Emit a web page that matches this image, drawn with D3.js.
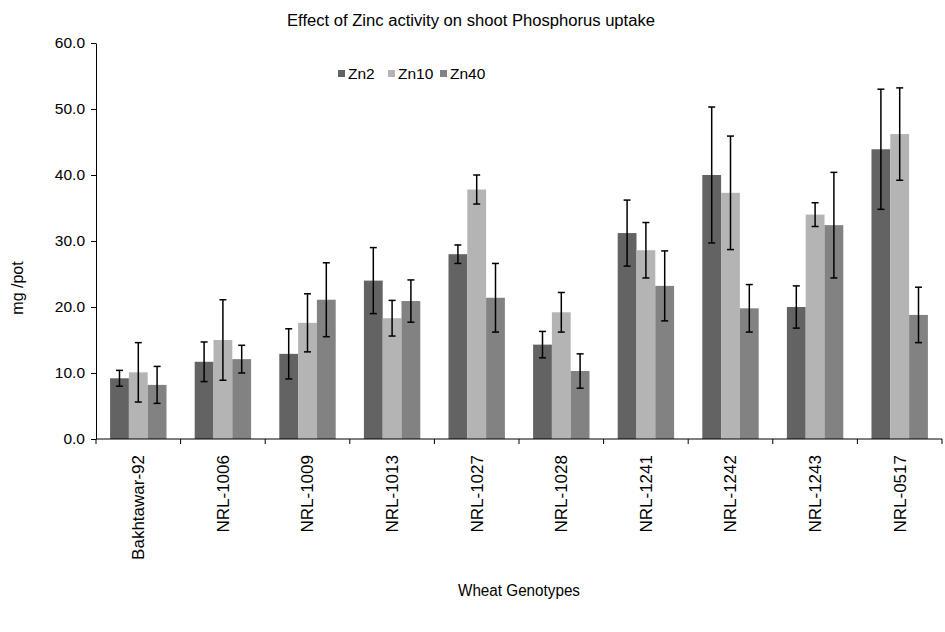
<!DOCTYPE html>
<html>
<head>
<meta charset="utf-8">
<script src="https://cdn.jsdelivr.net/npm/d3@7"></script>
<style>
  body { margin: 0; background: #fff; }
  svg text { font-family: "Liberation Sans", Arial, sans-serif; fill: #000; }
</style>
</head>
<body>
<script>
// data
var genotypes = ["Bakhtawar-92", "NRL-1006", "NRL-1009", "NRL-1013", "NRL-1027",
                 "NRL-1028", "NRL-1241", "NRL-1242", "NRL-1243", "NRL-0517"];
var seriesNames = ["Zn2", "Zn10", "Zn40"];
var zn2  = [9.2, 11.7, 12.9, 24.0, 28.0, 14.3, 31.2, 40.0, 20.0, 43.9];
var zn10 = [10.1, 15.0, 17.6, 18.3, 37.8, 19.2, 28.6, 37.3, 34.0, 46.2];
var zn40 = [8.2, 12.1, 21.1, 20.9, 21.4, 10.3, 23.2, 19.8, 32.4, 18.8];
var err2  = [1.2, 3.0, 3.8, 5.0, 1.4, 2.0, 5.0, 10.3, 3.2, 9.1];
var err10 = [4.5, 6.1, 4.4, 2.7, 2.2, 3.0, 4.2, 8.6, 1.8, 7.0];
var err40 = [2.8, 2.1, 5.6, 3.2, 5.2, 2.6, 5.3, 3.6, 8.0, 4.2];
var yTicks = [0, 10, 20, 30, 40, 50, 60];

var colors = ["#636363", "#b4b4b4", "#828282"];
var values = [zn2, zn10, zn40];
var errors = [err2, err10, err40];

// set the dimensions and margins of the graph
var margin = {top: 43, right: 3, bottom: 193, left: 96},
    width = 945 - margin.left - margin.right,
    height = 632 - margin.top - margin.bottom;

var svg = d3.select("body").append("svg")
    .attr("width", 945)
    .attr("height", 632);

var g = svg.append("g")
    .attr("transform", "translate(" + margin.left + "," + margin.top + ")");

// scales
var x0 = d3.scaleBand()
    .domain(genotypes)
    .range([0, width])
    .padding(0);
var x1 = d3.scaleBand()
    .domain(seriesNames)
    .range([0, x0.bandwidth()])
    .paddingInner(0)
    .paddingOuter(0.75);
var y = d3.scaleLinear()
    .domain([0, 60])
    .range([height, 0]);

// build rows for the bars
var rows = [];
genotypes.forEach(function(gname, i) {
  seriesNames.forEach(function(s, j) {
    rows.push({geno: gname, series: s, value: values[j][i], err: errors[j][i], color: colors[j]});
  });
});

// bars
g.selectAll(".bar")
    .data(rows)
  .enter().append("rect")
    .attr("class", "bar")
    .attr("x", function(d) { return x0(d.geno) + x1(d.series); })
    .attr("width", x1.bandwidth())
    .attr("y", function(d) { return y(d.value); })
    .attr("height", function(d) { return height - y(d.value); })
    .attr("fill", function(d) { return d.color; });

// error bars
var eb = g.selectAll(".err")
    .data(rows)
  .enter().append("g")
    .attr("class", "err")
    .attr("transform", function(d) {
      return "translate(" + (x0(d.geno) + x1(d.series) + x1.bandwidth() / 2) + ",0)";
    })
    .attr("stroke", "#000")
    .attr("stroke-width", 1.5);
eb.append("line")
    .attr("y1", function(d) { return y(d.value + d.err); })
    .attr("y2", function(d) { return y(d.value - d.err); });
eb.append("line")
    .attr("x1", -3.5).attr("x2", 3.5)
    .attr("y1", function(d) { return y(d.value + d.err); })
    .attr("y2", function(d) { return y(d.value + d.err); });
eb.append("line")
    .attr("x1", -3.5).attr("x2", 3.5)
    .attr("y1", function(d) { return y(d.value - d.err); })
    .attr("y2", function(d) { return y(d.value - d.err); });

// y axis
var yAxis = g.append("g")
    .call(d3.axisLeft(y).tickValues(yTicks).tickFormat(d3.format(".1f")).tickSize(5).tickSizeOuter(0));
yAxis.selectAll("text")
    .style("font-size", "15.5px")
    .attr("x", -11);
yAxis.selectAll("line, path").attr("stroke", "#000");

// x axis: line plus ticks at band boundaries
var xAxis = g.append("g")
    .attr("transform", "translate(0," + height + ")");
xAxis.append("line")
    .attr("x1", 0).attr("x2", width)
    .attr("stroke", "#000");
xAxis.selectAll(".tk")
    .data(genotypes.map(function(d) { return x0(d); }).concat([width]))
  .enter().append("line")
    .attr("class", "tk")
    .attr("x1", function(d) { return d; })
    .attr("x2", function(d) { return d; })
    .attr("y1", 0).attr("y2", 5)
    .attr("stroke", "#000");
xAxis.selectAll(".lbl")
    .data(genotypes)
  .enter().append("text")
    .attr("class", "lbl")
    .attr("transform", function(d) {
      return "translate(" + (x0(d) + x0.bandwidth() / 2) + ",16) rotate(-90)";
    })
    .attr("dy", "0.35em")
    .attr("text-anchor", "end")
    .style("font-size", "17px")
    .text(function(d) { return d; });

// titles
svg.append("text")
    .attr("x", 471)
    .attr("y", 26)
    .attr("text-anchor", "middle")
    .attr("textLength", 368)
    .attr("lengthAdjust", "spacingAndGlyphs")
    .style("font-size", "16px")
    .text("Effect of Zinc activity on shoot Phosphorus uptake");

svg.append("text")
    .attr("x", margin.left + width / 2)
    .attr("y", 596)
    .attr("text-anchor", "middle")
    .attr("textLength", 122)
    .attr("lengthAdjust", "spacingAndGlyphs")
    .style("font-size", "16px")
    .text("Wheat Genotypes");

svg.append("text")
    .attr("transform", "translate(23,288) rotate(-90)")
    .attr("text-anchor", "middle")
    .style("font-size", "16px")
    .text("mg /pot");

// legend
var legend = svg.append("g")
    .attr("transform", "translate(338,74)");
var legX = [0, 50, 102];
var li = legend.selectAll(".leg")
    .data(seriesNames)
  .enter().append("g")
    .attr("transform", function(d, i) { return "translate(" + legX[i] + ",0)"; });
li.append("rect")
    .attr("x", 0).attr("y", -4)
    .attr("width", 7).attr("height", 7)
    .attr("fill", function(d, i) { return colors[i]; });
li.append("text")
    .attr("x", 10)
    .attr("y", 0)
    .attr("dy", "0.35em")
    .style("font-size", "15.5px")
    .text(function(d) { return d; });
</script>
</body>
</html>
